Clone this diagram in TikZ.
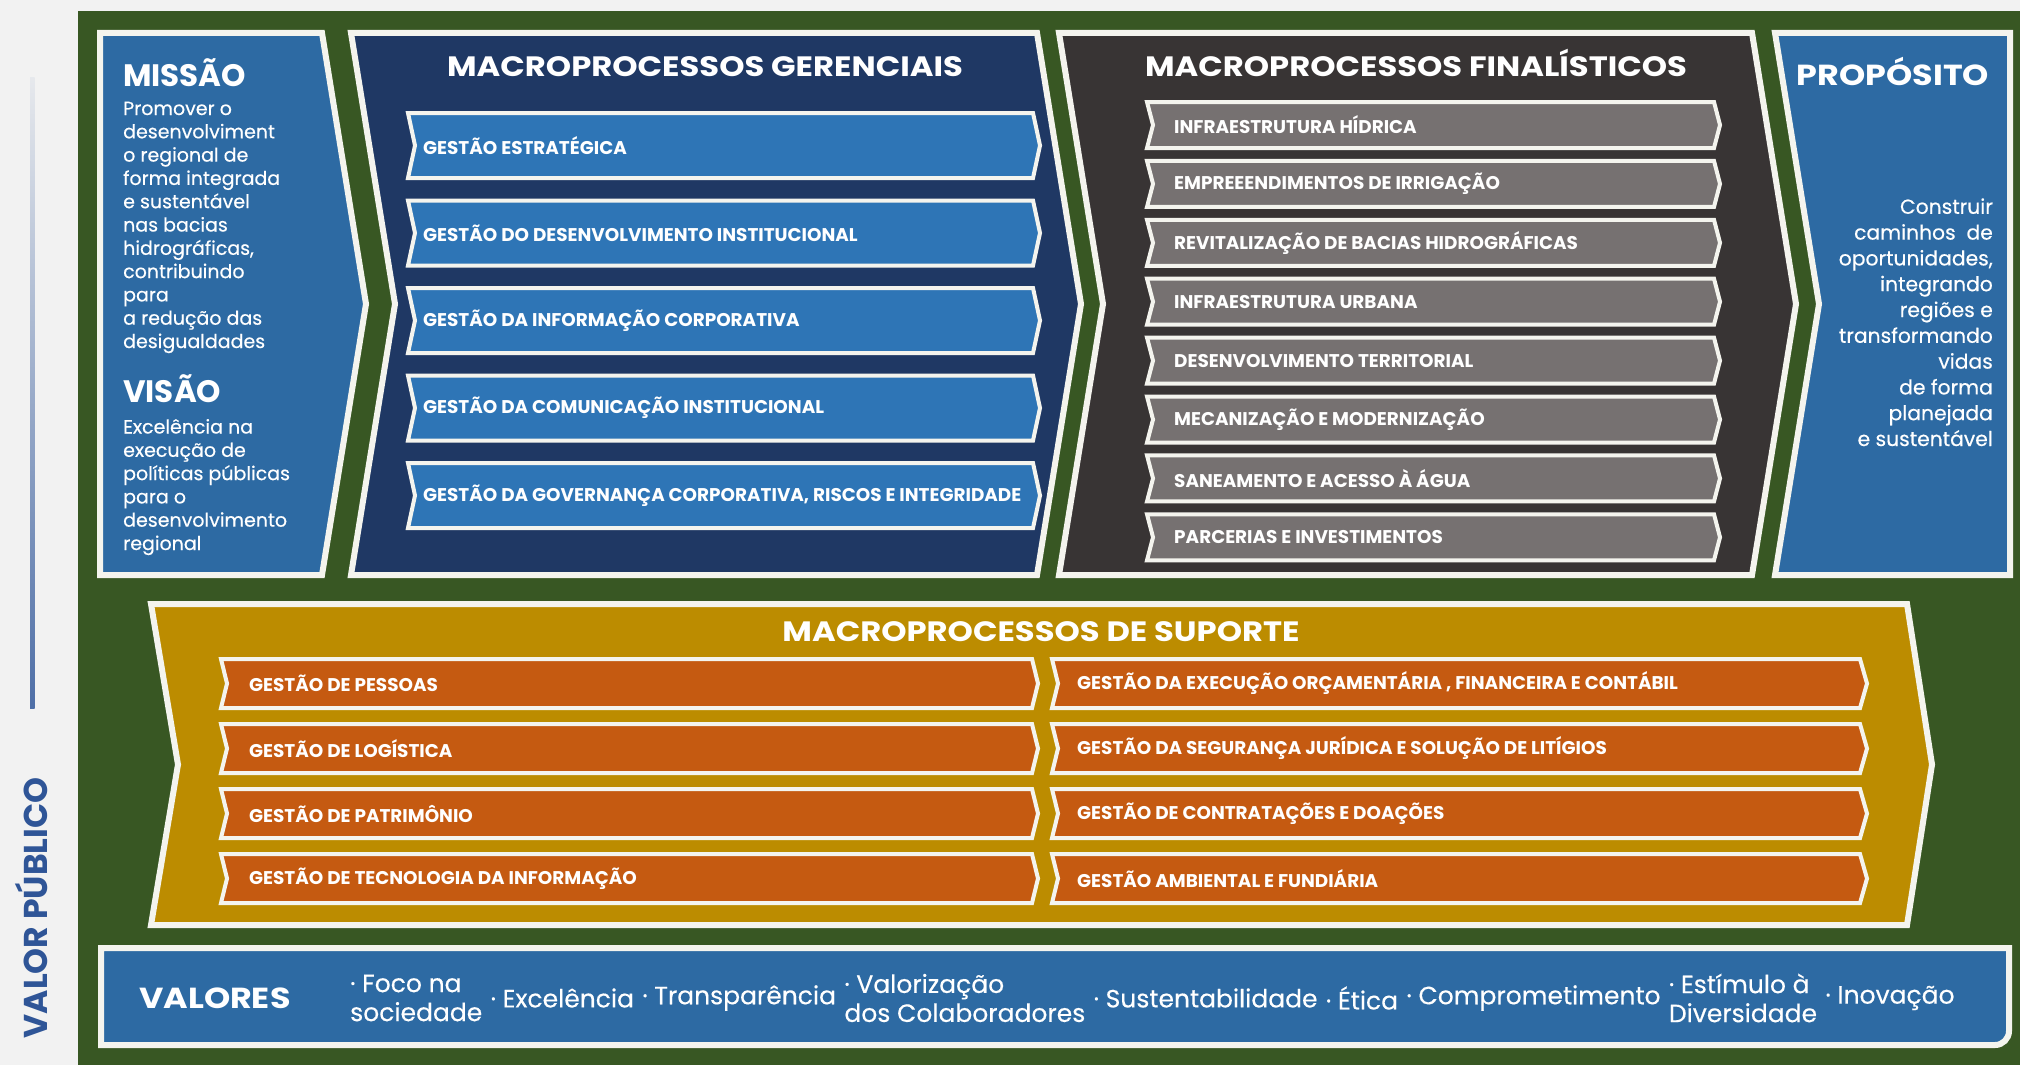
\documentclass[tikz,border=0pt]{standalone}
\usepackage{fontspec}
\setmainfont{Poppins}
\newfontfamily\wideface{Poppins}[FakeStretch=1.15]
\usetikzlibrary{positioning}

\definecolor{bggray}{HTML}{F2F2F2}
\definecolor{leaf}{HTML}{385723}
\definecolor{midblue}{HTML}{2D6AA3}
\definecolor{navy}{HTML}{1F3864}
\definecolor{itemblue}{HTML}{2E75B6}
\definecolor{charcoal}{HTML}{383434}
\definecolor{itemgray}{HTML}{767171}
\definecolor{gold}{HTML}{BC8C00}
\definecolor{rust}{HTML}{C55A11}
\definecolor{edge}{HTML}{F4F4EE}
\definecolor{pubblue}{HTML}{2F5597}

\newcommand{\chevbox}[7][]{%
  \filldraw[#1] (#2,#4) -- (#3,#4) -- ({#3+#7},{(#4+#5)/2}) -- (#3,#5) -- (#2,#5) -- ({#2+#6},{(#4+#5)/2}) -- cycle;}

\begin{document}
\begin{tikzpicture}[x=1pt,y=-1pt,
  every node/.style={inner sep=0pt,text=white},
  panel/.style={draw=edge,line width=6pt},
  item/.style={draw=edge,line width=4pt},
  itemlabel/.style={anchor=west,font=\fontsize{18.4}{21}\selectfont\bfseries},
  title/.style={anchor=base,font=\wideface\fontsize{28}{32}\selectfont\bfseries},
  head/.style={anchor=base west,font=\fontsize{31}{34}\selectfont\bfseries},
  body/.style={anchor=base west,align=left,font=\fontsize{19}{23.3}\selectfont\addfontfeatures{FakeBold=0.4}},
  valtext/.style={anchor=west,align=left,font=\fontsize{25}{29}\selectfont\addfontfeatures{FakeBold=0.3}}]
\useasboundingbox (0,0) rectangle (2020,1065);
\fill[bggray] (0,0) rectangle (2020,1065);
\fill[leaf] (78,11) rectangle (2020,1065);
\shade[top color=pubblue!6!bggray,bottom color=pubblue!85!white] (30,77) rectangle (34.5,708);
\node[rotate=90,text=pubblue,font=\fontsize{33}{36}\selectfont\bfseries] (valpub) at (32,908) {VALOR PÚBLICO};

\chevbox[panel,fill=midblue]{100}{322}{33}{575}{0}{44}
\chevbox[panel,fill=navy]{351}{1037}{33}{575}{44}{44}
\chevbox[panel,fill=charcoal]{1059}{1752}{33}{575}{44}{44}
\chevbox[panel,fill=midblue]{1775}{2010}{33}{575}{44}{0}
\chevbox[panel,fill=gold]{151}{1907}{604}{925}{27}{25}
\filldraw[panel,fill=midblue] (101,948) -- (2009,948) -- (2009,1030) [rounded corners=14pt] -- (2009,1045) [sharp corners] -- (101,1045) -- cycle;

\node[head] (missao) at (123,86) {MISSÃO};
\node[body] (missaotxt) at (123,348) {Promover o\\desenvolviment\\o regional de\\forma integrada\\e sustentável\\nas bacias\\hidrográficas,\\contribuindo\\para\\a redução das\\desigualdades};
\node[head] (visao) at (123,402) {VISÃO};
\node[body] (visaotxt) at (123,550) {Excelência na\\execução de\\políticas públicas\\para o\\desenvolvimento\\regional};

\node[title] (gertitle) at (705,76.5) {MACROPROCESSOS GERENCIAIS};
\foreach \lbl [count=\i from 0] in {GESTÃO ESTRATÉGICA,GESTÃO DO DESENVOLVIMENTO INSTITUCIONAL,GESTÃO DA INFORMAÇÃO CORPORATIVA,GESTÃO DA COMUNICAÇÃO INSTITUCIONAL,{GESTÃO DA GOVERNANÇA CORPORATIVA, RISCOS E INTEGRIDADE}}{
  \pgfmathsetmacro{\ytop}{113+87.5*\i}
  \pgfmathsetmacro{\ybot}{\ytop+65}
  \chevbox[item,fill=itemblue]{408}{1033}{\ytop}{\ybot}{7}{7}
  \node[itemlabel] (ger\i) at (423,{(\ytop+\ybot)/2}) {\lbl};
}

\node[title] (fintitle) at (1416,76.5) {MACROPROCESSOS FINALÍSTICOS};
\foreach \lbl [count=\i from 0] in {INFRAESTRUTURA HÍDRICA,EMPREEENDIMENTOS DE IRRIGAÇÃO,REVITALIZAÇÃO DE BACIAS HIDROGRÁFICAS,INFRAESTRUTURA URBANA,DESENVOLVIMENTO TERRITORIAL,MECANIZAÇÃO E MODERNIZAÇÃO,SANEAMENTO E ACESSO À ÁGUA,PARCERIAS E INVESTIMENTOS}{
  \pgfmathsetmacro{\ytop}{102+58.9*\i}
  \pgfmathsetmacro{\ybot}{\ytop+46}
  \chevbox[item,fill=itemgray]{1147}{1714}{\ytop}{\ybot}{6}{6}
  \node[itemlabel] (fin\i) at (1174,{(\ytop+\ybot)/2}) {\lbl};
}

\node[title,font=\wideface\fontsize{29}{32}\selectfont\bfseries] (proptitle) at (1893,85) {PROPÓSITO};
\node[body,anchor=base east,align=right,font=\fontsize{20.3}{25.8}\selectfont\addfontfeatures{FakeBold=0.4}] (proptxt) at (1993,446) {Construir\\caminhos\ \ de\\oportunidades,\\integrando\\regiões e\\transformando\\vidas\\de forma\\planejada\\e sustentável};

\node[title] (suptitle) at (1041,641) {MACROPROCESSOS DE SUPORTE};
\foreach \lft/\rgt [count=\i from 0] in {GESTÃO DE PESSOAS/{GESTÃO DA EXECUÇÃO ORÇAMENTÁRIA , FINANCEIRA E CONTÁBIL},GESTÃO DE LOGÍSTICA/GESTÃO DA SEGURANÇA JURÍDICA E SOLUÇÃO DE LITÍGIOS,GESTÃO DE PATRIMÔNIO/GESTÃO DE CONTRATAÇÕES E DOAÇÕES,GESTÃO DE TECNOLOGIA DA INFORMAÇÃO/GESTÃO AMBIENTAL E FUNDIÁRIA}{
  \pgfmathsetmacro{\ytop}{659+65*\i}
  \pgfmathsetmacro{\ybot}{\ytop+49}
  \chevbox[item,fill=rust]{221}{1032}{\ytop}{\ybot}{6}{6}
  \chevbox[item,fill=rust]{1052}{1860}{\ytop}{\ybot}{6}{7}
  \node[itemlabel] (supl\i) at (249,{(\ytop+\ybot)/2}) {\lft};
  \node[itemlabel] (supr\i) at (1077,{(\ytop+\ybot)/2}) {\rgt};
}

\node[anchor=west,font=\wideface\fontsize{29}{32}\selectfont\bfseries] (valores) at (139,998) {VALORES};
\node[valtext] (v1) at (350,998) {· Foco na\\sociedade};
\node[valtext,right=8pt of v1] (v2) {· Excelência};
\node[valtext,right=8pt of v2] (v3) {· Transparência};
\node[valtext,right=8pt of v3] (v4) {· Valorização\\dos Colaboradores};
\node[valtext,right=8pt of v4] (v5) {· Sustentabilidade};
\node[valtext,right=8pt of v5] (v6) {· Ética};
\node[valtext,right=8pt of v6] (v7) {· Comprometimento};
\node[valtext,right=8pt of v7] (v8) {· Estímulo à\\Diversidade};
\node[valtext,right=8pt of v8] (v9) {· Inovação};
\end{tikzpicture}
\end{document}
